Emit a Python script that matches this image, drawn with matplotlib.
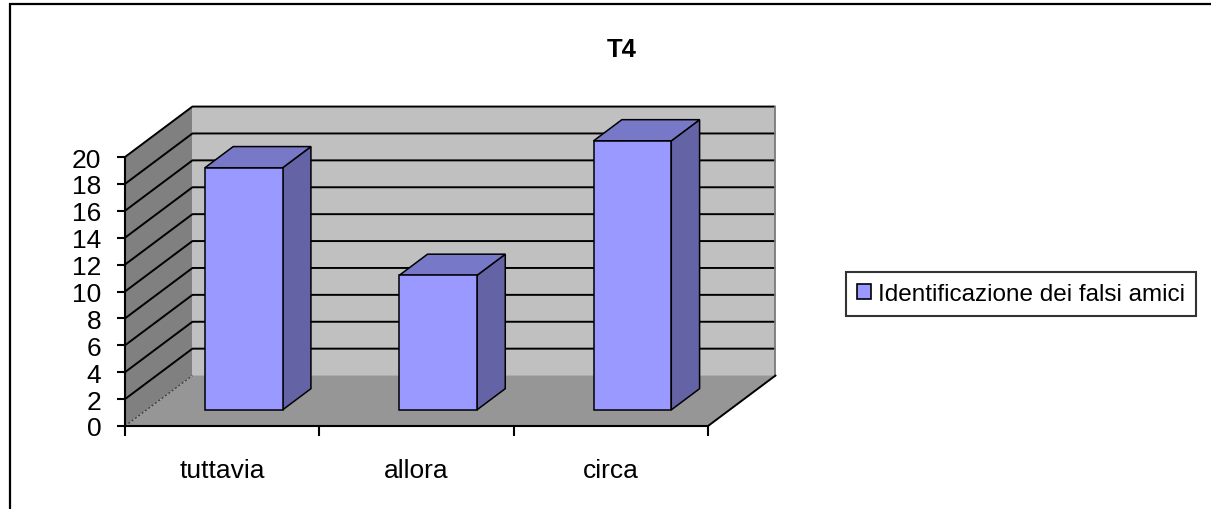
import matplotlib
matplotlib.use("Agg")
import matplotlib.pyplot as plt
from matplotlib.patches import Polygon, Rectangle, Patch

# Chart data
categories = ["tuttavia", "allora", "circa"]
values = [18, 10, 20]
series_name = "Identificazione dei falsi amici"
chart_title = "T4"
y_ticks = list(range(0, 21, 2))

plt.rcParams['font.family'] = ['Liberation Sans', 'DejaVu Sans']

W, H = 1211, 510
fig = plt.figure(figsize=(W / 100, H / 100), dpi=100)
fig.patch.set_facecolor("white")

# Front plane of the 3-D box (value axis + category axis)
ax = fig.add_axes([125 / W, 83 / H, 583 / W, 269 / H])
ax.patch.set_visible(False)

n = len(categories)
ymax = y_ticks[-1]
ax.set_xlim(0, n)
ax.set_ylim(0, ymax)

# Oblique depth of the box in data units
DX, DY = 0.347, 3.75
# Bar footprint: width as fraction of category, depth range as fraction of box depth
BW = 0.40
F0, F1 = 0.32, 0.74

WALL_SIDE = "#808080"
WALL_BACK = "#C0C0C0"
FLOOR = "#969696"
BAR_FRONT = "#9999FF"
BAR_TOP = "#7878C8"
BAR_SIDE = "#6363A5"


def poly(pts, fc, z, ec="none", lw=0.0):
    p = Polygon(pts, closed=True, facecolor=fc, edgecolor=ec, linewidth=lw,
                zorder=z, clip_on=False)
    ax.add_patch(p)


# Walls and floor
poly([(0, 0), (0, ymax), (DX, ymax + DY), (DX, DY)], WALL_SIDE, 1)
poly([(DX, DY), (n + DX, DY), (n + DX, ymax + DY), (DX, ymax + DY)], WALL_BACK, 1)
poly([(0, 0), (n, 0), (n + DX, DY), (DX, DY)], FLOOR, 1)

# Gridlines running across side wall and back wall
for v in y_ticks[1:]:
    ax.plot([0, DX, n + DX], [v, v + DY, v + DY], color="black", lw=1.4,
            zorder=2, clip_on=False, solid_capstyle="butt")
ax.plot([0, DX], [0, DY], color="#404040", lw=1.0, ls=(0, (1.5, 1.5)),
        zorder=2, clip_on=False)
ax.plot([n + DX, n + DX], [DY, ymax + DY], color="#7a7a7a", lw=1.3,
        zorder=2, clip_on=False)
ax.plot([n, n + DX], [0, DY], color="black", lw=1.4, zorder=2, clip_on=False)

# 3-D columns
bx, by = (F1 - F0) * DX, (F1 - F0) * DY
for i, v in enumerate(values):
    x0 = i + 0.5 - BW / 2 + F0 * DX
    x1 = x0 + BW
    y0 = F0 * DY
    y1 = v + F0 * DY
    poly([(x1, y0), (x1 + bx, y0 + by), (x1 + bx, y1 + by), (x1, y1)],
         BAR_SIDE, 3, ec="black", lw=1.1)
    poly([(x0, y1), (x1, y1), (x1 + bx, y1 + by), (x0 + bx, y1 + by)],
         BAR_TOP, 3, ec="black", lw=1.1)
    poly([(x0, y0), (x1, y0), (x1, y1), (x0, y1)],
         BAR_FRONT, 4, ec="black", lw=1.1)

# Axes, ticks and labels
for s in ("top", "right"):
    ax.spines[s].set_visible(False)
for s in ("left", "bottom"):
    ax.spines[s].set_linewidth(1.5)
    ax.spines[s].set_zorder(5)

ax.set_yticks(y_ticks)
ax.set_yticklabels([str(t) for t in y_ticks])
ax.tick_params(axis="y", direction="out", length=6, width=1.5,
               labelsize=19, pad=11)

ax.set_xticks(range(n + 1))
ax.set_xticklabels([])
ax.set_xticks([i + 0.5 for i in range(n)], minor=True)
ax.set_xticklabels(categories, minor=True)
ax.tick_params(axis="x", which="major", direction="out", length=7, width=1.5)
ax.tick_params(axis="x", which="minor", length=0, labelsize=19, pad=23)

# Title
fig.text(622 / W, 1 - 50 / H, chart_title, ha="center", va="center",
         fontsize=18.5, fontweight="bold")

# Legend
handle = Patch(facecolor=BAR_FRONT, edgecolor="black", linewidth=1.2,
               label=series_name)
leg = fig.legend(handles=[handle], loc="center",
                 bbox_to_anchor=(1021 / W, 1 - 295 / H),
                 frameon=True, fancybox=False, edgecolor="black",
                 fontsize=17.5, handlelength=0.55, handleheight=0.55,
                 handletextpad=0.3, borderpad=0.45, borderaxespad=0)
leg.get_frame().set_linewidth(1.5)

# Outer chart-area border
fig.add_artist(Rectangle((10 / W, -0.05), 1.1, 1 - 5 / H + 0.05,
                         transform=fig.transFigure, fill=False,
                         edgecolor="black", linewidth=1.6))

fig.savefig("out.png", dpi=100, facecolor="white")
